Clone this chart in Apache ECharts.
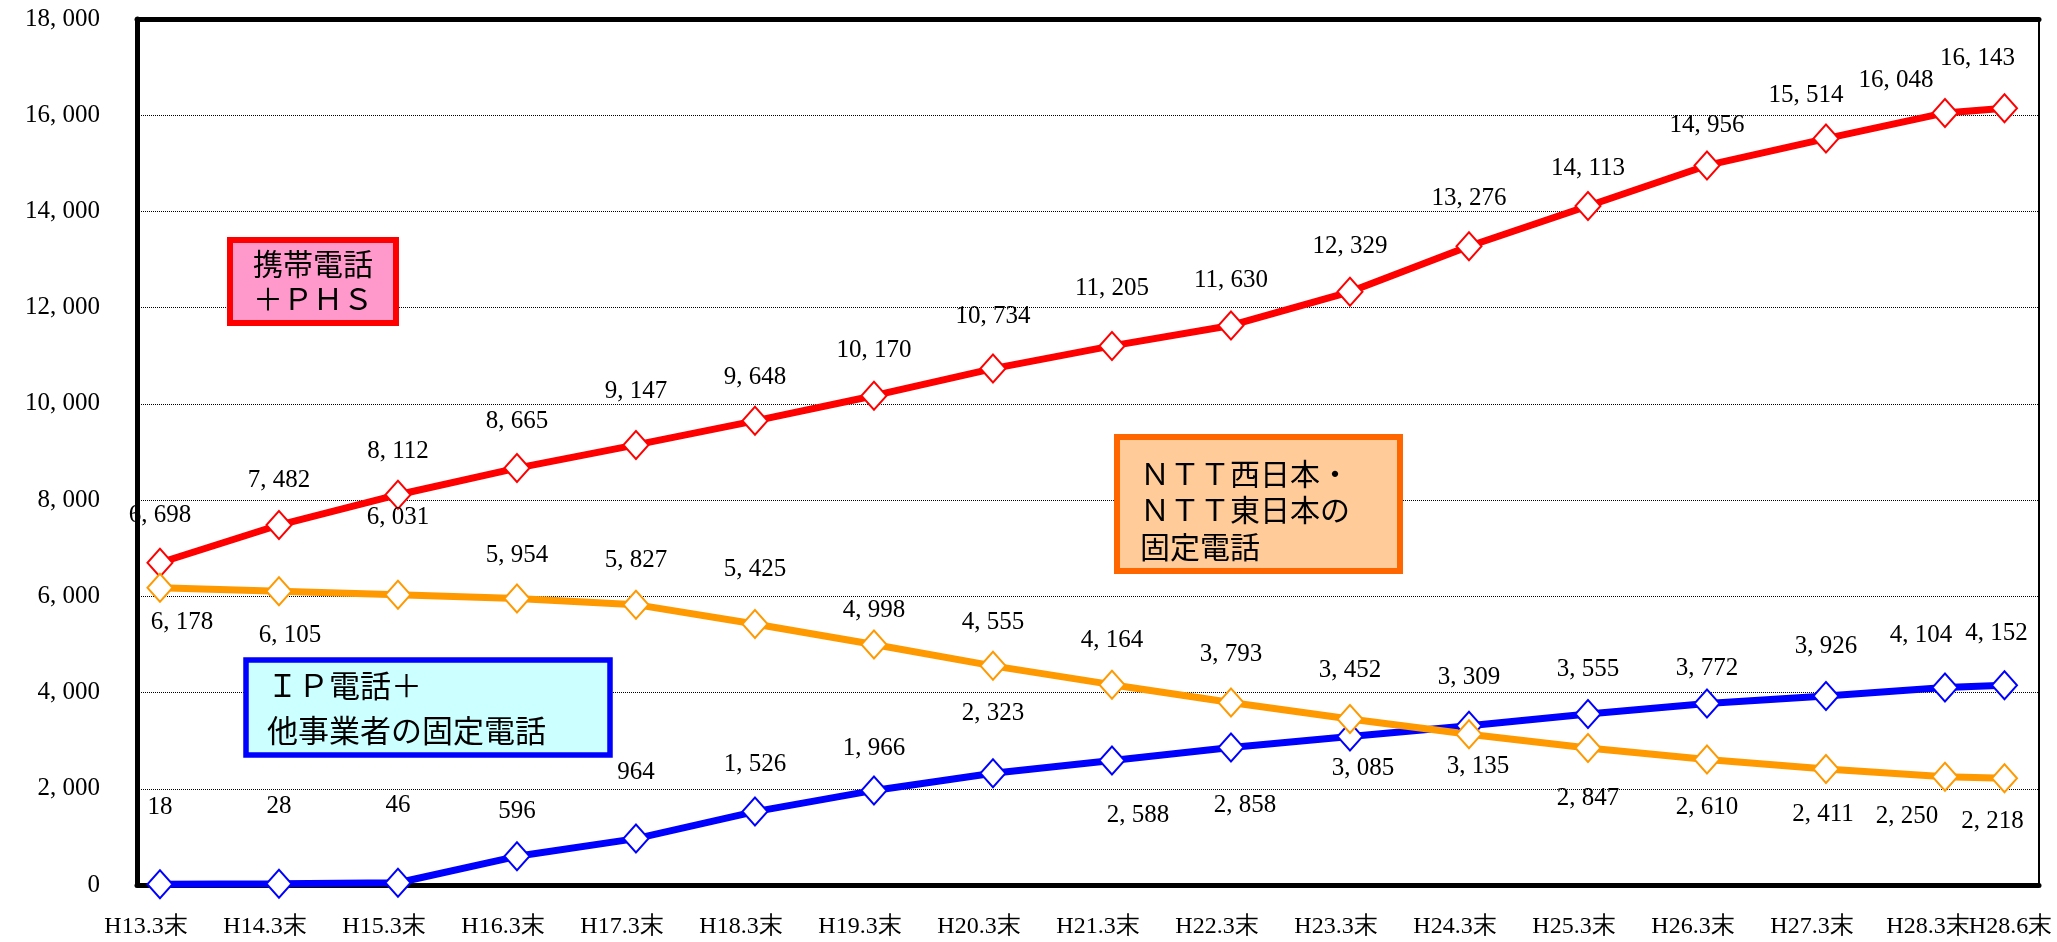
<!DOCTYPE html>
<html>
<head>
<meta charset="utf-8">
<script src="https://cdn.jsdelivr.net/npm/echarts@6/dist/echarts.min.js"></script>
<style>
html, body { margin: 0; padding: 0; background: #fff; }
#chart { width: 2057px; height: 942px; }
</style>
</head>
<body>
<div id="chart"></div>
<script>
// 時点
const periods = ['H13.3末', 'H14.3末', 'H15.3末', 'H16.3末', 'H17.3末', 'H18.3末', 'H19.3末', 'H20.3末',
  'H21.3末', 'H22.3末', 'H23.3末', 'H24.3末', 'H25.3末', 'H26.3末', 'H27.3末', 'H28.3末', 'H28.6末']
// 横軸上の位置（H28.6末は半区間）
const periodPos = [0, 1, 2, 3, 4, 5, 6, 7, 8, 9, 10, 11, 12, 13, 14, 15, 15.5]

const mobile = [6698, 7482, 8112, 8665, 9147, 9648, 10170, 10734, 11205, 11630, 12329, 13276, 14113, 14956, 15514, 16048, 16143]
const nttFixed = [6178, 6105, 6031, 5954, 5827, 5425, 4998, 4555, 4164, 3793, 3452, 3135, 2847, 2610, 2411, 2250, 2218]
const ipFixed = [18, 28, 46, 596, 964, 1526, 1966, 2323, 2588, 2858, 3085, 3309, 3555, 3772, 3926, 4104, 4152]

const yMin = 0
const yMax = 18000
const yStep = 2000

// ラベル位置の微調整 [dx, dy]
const mobileLabelOff = [[0, -47], [0, -45], [0, -43], [0, -47], [0, -53], [0, -43], [0, -45], [0, -52], [0, -57],
  [0, -45], [0, -45], [0, -48], [0, -38], [0, -40], [-20, -43], [-49, -32], [-27, -50]]
const nttLabelOff = [[22, 35], [11, 44], [0, -77], [0, -43], [0, -44], [0, -55], [0, -34], [0, -43], [0, -44],
  [0, -48], [0, -48], [9, 32], [0, 50], [0, 48], [-3, 45], [-38, 40], [-12, 43]]
const ipLabelOff = [[0, -77], [0, -77], [0, -77], [0, -45], [0, -66], [0, -47], [0, -42], [0, -60], [26, 55],
  [14, 58], [13, 32], [0, -48], [0, -45], [0, -35], [0, -50], [-24, -52], [-8, -52]]

const numFont = '"Liberation Serif", "DejaVu Serif", serif'
const jpFont = '"Noto Sans CJK JP", sans-serif'

const fmt = v => String(v).replace(/\B(?=(\d{3})+(?!\d))/g, ', ')
const periodLabel = v => periods[periodPos.indexOf(v)] || ''

const chart = echarts.init(document.getElementById('chart'))

const makeSeries = (name, values, offsets, color) => ({
  type: 'line',
  name: name,
  data: values.map((v, i) => ({
    value: [periodPos[i], v],
    label: { offset: offsets[i] }
  })),
  symbol: 'diamond',
  symbolSize: [25, 28],
  showAllSymbol: true,
  lineStyle: { width: 7, color: color },
  itemStyle: { color: '#fff', borderColor: color, borderWidth: 2 },
  label: {
    show: true,
    position: 'inside',
    color: '#000',
    fontSize: 25,
    fontFamily: numFont,
    formatter: p => fmt(p.value[1])
  },
  emphasis: { disabled: true }
})

const xRange = { min: -0.193, max: 15.79 }
const lastIdx = periods.length - 1

const bareXAxis = (position, extra) => Object.assign({
  type: 'value',
  position: position,
  ...xRange,
  axisLine: { show: false },
  axisTick: { show: false },
  splitLine: { show: false },
  axisLabel: { show: false }
}, extra)

const xLabelBase = {
  hideOverlap: false,
  color: '#000',
  fontSize: 24,
  fontFamily: numFont,
  margin: 30,
  formatter: periodLabel
}

chart.setOption({
  animation: false,
  backgroundColor: '#fff',
  grid: { left: 137, right: 18, top: 19, bottom: 57 },
  xAxis: [
    bareXAxis('bottom', {
      axisLine: { show: true, onZero: false, lineStyle: { color: '#000', width: 5 } },
      axisLabel: Object.assign({}, xLabelBase, {
        customValues: periodPos.slice(0, lastIdx - 1),
        padding: [0, 28, 0, 0]
      })
    }),
    bareXAxis('bottom', {
      axisLabel: Object.assign({}, xLabelBase, {
        customValues: [periodPos[lastIdx - 1]],
        padding: [0, 34, 0, 0]
      })
    }),
    bareXAxis('bottom', {
      axisLabel: Object.assign({}, xLabelBase, {
        customValues: [periodPos[lastIdx]],
        padding: [0, 0, 0, 12]
      })
    }),
    bareXAxis('top', {
      axisLine: { show: true, onZero: false, lineStyle: { color: '#000', width: 5 } }
    })
  ],
  yAxis: [
    {
      type: 'value',
      min: yMin,
      max: yMax,
      interval: yStep,
      axisLine: { show: true, onZero: false, lineStyle: { color: '#000', width: 5 } },
      axisTick: { show: false },
      splitLine: { show: true, lineStyle: { type: 'dotted', color: '#000', width: 1 } },
      axisLabel: {
        color: '#000',
        fontSize: 25,
        fontFamily: numFont,
        margin: 37,
        formatter: v => fmt(v)
      }
    },
    {
      type: 'value',
      position: 'right',
      min: yMin,
      max: yMax,
      interval: yStep,
      axisLine: { show: true, onZero: false, lineStyle: { color: '#000', width: 2 } },
      axisTick: { show: false },
      splitLine: { show: false },
      axisLabel: { show: false }
    }
  ],
  series: [
    makeSeries('携帯電話＋ＰＨＳ', mobile, mobileLabelOff, '#FF0000'),
    makeSeries('ＩＰ電話＋他事業者の固定電話', ipFixed, ipLabelOff, '#0000FF'),
    makeSeries('ＮＴＴ西日本・ＮＴＴ東日本の固定電話', nttFixed, nttLabelOff, '#FF9900')
  ],
  graphic: [
    {
      type: 'rect',
      shape: { x: 230, y: 240, width: 166, height: 83 },
      style: { fill: '#FF99CC', stroke: '#FF0000', lineWidth: 6 },
      z: 10
    },
    {
      type: 'text',
      style: {
        x: 313, y: 281,
        text: '携帯電話\n＋ＰＨＳ',
        font: '30px ' + jpFont,
        fill: '#000',
        align: 'center',
        verticalAlign: 'middle',
        lineHeight: 35
      },
      z: 11
    },
    {
      type: 'rect',
      shape: { x: 1117, y: 437, width: 283, height: 134 },
      style: { fill: '#FFCC99', stroke: '#FF6600', lineWidth: 6 },
      z: 10
    },
    {
      type: 'text',
      style: {
        x: 1140, y: 510,
        text: 'ＮＴＴ西日本・\nＮＴＴ東日本の\n固定電話',
        font: '30px ' + jpFont,
        fill: '#000',
        align: 'left',
        verticalAlign: 'middle',
        lineHeight: 36.5
      },
      z: 11
    },
    {
      type: 'rect',
      shape: { x: 246, y: 660, width: 364, height: 95 },
      style: { fill: '#CCFFFF', stroke: '#0000FF', lineWidth: 5.5 },
      z: 10
    },
    {
      type: 'text',
      style: {
        x: 267, y: 708,
        text: 'ＩＰ電話＋\n他事業者の固定電話',
        font: '31px ' + jpFont,
        fill: '#000',
        align: 'left',
        verticalAlign: 'middle',
        lineHeight: 45
      },
      z: 11
    }
  ]
})

window.addEventListener('resize', () => chart.resize())
</script>
</body>
</html>
